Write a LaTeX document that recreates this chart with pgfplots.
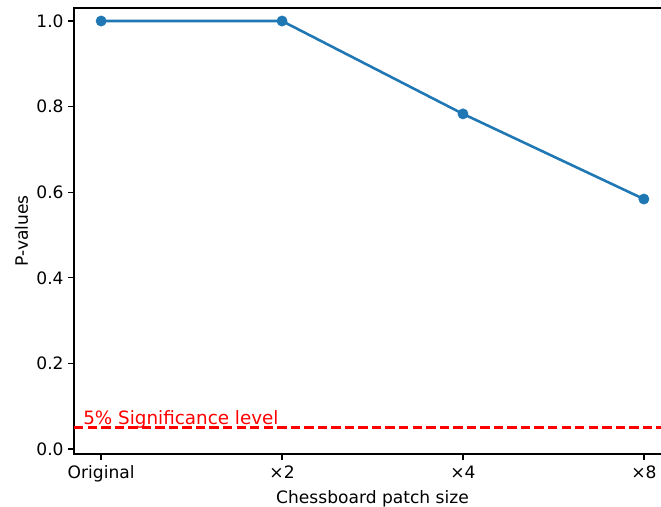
\documentclass[border=0pt]{standalone}
\usepackage{pgfplots}
\pgfplotsset{compat=1.18}
\usepackage{fontspec}
\setmainfont{DejaVu Sans}
\definecolor{tabblue}{HTML}{1F77B4}
\begin{document}
\begin{tikzpicture}[x=1pt,y=1pt]
\path[use as bounding box] (-53.28,-37.44) rectangle (422.64,326.88);
\clip (-53.28,-37.44) rectangle (422.64,326.88);
\begin{axis}[
  at={(0,0)}, anchor=south west,
  scale only axis, width=429.84pt, height=321.12pt,
  xmin=-0.15, xmax=3.15, ymin=-0.0117, ymax=1.0304,
  xtick={0,1,2,3}, xticklabels={Original,×2,×4,×8},
  ytick={0,0.2,0.4,0.6,0.8,1.0},
  yticklabel style={/pgf/number format/fixed,/pgf/number format/fixed zerofill,/pgf/number format/precision=1},
  /pgf/number format/assume math mode=true,
  tick label style={font=\fontsize{12.3}{14}\selectfont},
  label style={font=\fontsize{12.3}{14}\selectfont},
  xticklabel style={inner sep=2pt, yshift=-2pt},
  yticklabel style={inner sep=2pt, xshift=-1pt},
  xlabel={Chessboard patch size}, ylabel={P-values},
  tick align=outside, tick pos=left,
  major tick length=4.3pt,
  every tick/.style={black, line width=1pt},
  axis line style={line width=1pt},
  xlabel style={yshift=0pt},
  ylabel style={yshift=0.5pt},
  clip=false,
]
\addplot[tabblue, line width=1.85pt, mark=*, mark size=3.7pt, mark options={solid,fill=tabblue,draw=tabblue,line width=0.4pt}] coordinates {(0,1.0) (1,1.0) (2,0.783) (3,0.584)};
\addplot[red, line width=1.85pt, dash pattern=on 6.8pt off 2.95pt] coordinates {(-0.15,0.05) (3.15,0.05)};
\node[red, anchor=base west, font=\fontsize{13.2}{15}\selectfont, inner sep=0pt] at (axis cs:-0.1,0.058) {5\% Significance level};
\end{axis}
\end{tikzpicture}
\end{document}
